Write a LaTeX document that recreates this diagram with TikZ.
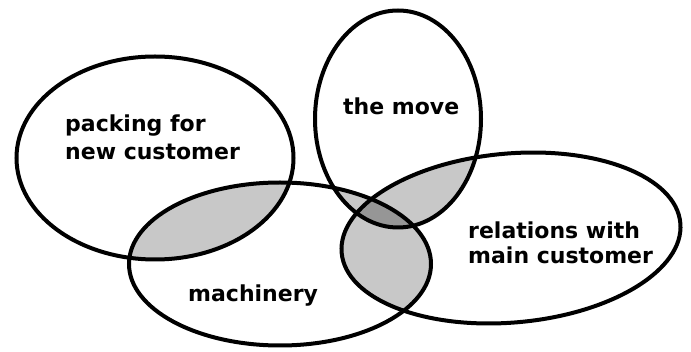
\documentclass[tikz,border=0pt]{standalone}
\usepackage{fontspec}
\setmainfont{DejaVu Sans}
\usepackage{tikz}

\definecolor{pairgray}{RGB}{200,200,200}
\definecolor{triplegray}{RGB}{150,150,150}

% the four sets
\newcommand{\packingset}{(155,158) ellipse [x radius=138.5, y radius=101.5]}
\newcommand{\machineset}{(280,264) ellipse [x radius=151, y radius=81.5]}
\newcommand{\moveset}{(398,119) ellipse [x radius=83, y radius=108.5]}
\newcommand{\relationset}{(511,238) ellipse [x radius=170, y radius=84.5, rotate=5]}

\begin{document}
\begin{tikzpicture}[x=1pt,y=-1pt,
		ring/.style={line width=4pt},
		pairzone/.style={fill=pairgray},
		triplezone/.style={fill=triplegray},
		setlabel/.style={anchor=base west, inner sep=0pt, align=left, font=\bfseries\fontsize{22}{28}\selectfont}]
			\useasboundingbox (0,0) rectangle (691,352);
			
			% Packing and machinery
			\begin{scope}
				\clip \packingset;
				\fill[pairzone] \machineset;
			\end{scope}
			
			% Machinery and relations
			\begin{scope}
				\clip \machineset;
				\fill[pairzone] \relationset;
			\end{scope}
			
			% Move and relations
			\begin{scope}
				\clip \moveset;
				\fill[pairzone] \relationset;
			\end{scope}
			
			% Move and machinery
			\begin{scope}
				\clip \moveset;
				\fill[pairzone] \machineset;
			\end{scope}
			
			% All three
			\begin{scope}
				\clip \moveset;
				\clip \machineset;
				\fill[triplezone] \relationset;
			\end{scope}
			
			% Outlines
			\draw[ring] \packingset;
			\draw[ring] \machineset;
			\draw[ring] \moveset;
			\draw[ring] \relationset;
			
			% Labels (base of the last line)
			\node[setlabel] (packing) at (65,160) {packing for\\new customer};
			\node[setlabel] (move) at (343,115) {the move};
			\node[setlabel] (machinery) at (188,302) {machinery};
			\node[setlabel, font=\bfseries\fontsize{22}{25}\selectfont] (relations) at (468,264) {relations with\\main customer};
			
		\end{tikzpicture}
\end{document}
